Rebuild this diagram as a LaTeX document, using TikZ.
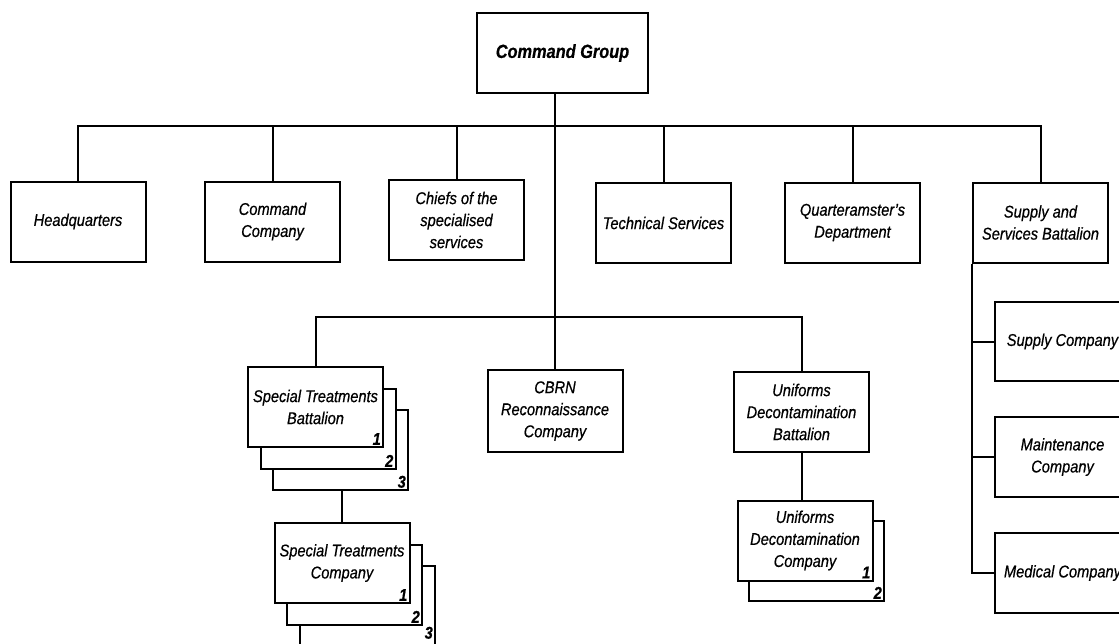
\documentclass[tikz,border=0pt]{standalone}
\usepackage{fontspec}
\setmainfont{Liberation Sans}[FakeStretch=0.86,FakeBold=0.6]
\begin{document}
\begin{tikzpicture}[x=1pt,y=-1pt,
    unit/.style={draw, line width=2pt, fill=white, minimum width=135pt, minimum height=80pt, inner sep=2pt, align=center, font=\fontsize{17}{22}\selectfont\itshape},
    num/.style={anchor=south east, inner sep=3pt, font=\fontsize{17}{17}\selectfont\bfseries\itshape},
    link/.style={line width=2pt}]
  \useasboundingbox (0,0) rectangle (1119,643);
  \coordinate (busa) at (0,126);
  \coordinate (busb) at (0,317);
  % top level
  \node[unit, minimum width=171pt, font=\fontsize{19}{22}\selectfont\bfseries\itshape] (cmd) at (562.5,53) {Command Group};
  \node[unit] (hq)  at (78,221.5)    {Headquarters};
  \node[unit] (cco) at (272.5,221.5) {Command\\Company};
  \node[unit] (chf) at (456.5,220)   {Chiefs of the\\specialised\\services};
  \node[unit] (tec) at (663.5,223)   {Technical Services};
  \node[unit] (qm)  at (852.5,222.5) {Quarteramster's\\Department};
  \node[unit] (ssb) at (1040.5,222.5) {Supply and\\Services Battalion};
  % second level
  \node[unit] (stb3) at (340.5,450) {};
  \node[unit] (stb2) at (328,429) {};
  \node[unit] (stb)  at (315.5,407) {Special Treatments\\Battalion};
  \node[num] at (stb.south east) {1};
  \node[num] at (stb2.south east) {2};
  \node[num] at (stb3.south east) {3};
  \node[unit, minimum height=82pt] (cbrn) at (555,411) {CBRN\\Reconnaissance\\Company};
  \node[unit] (udb) at (801.5,412) {Uniforms\\Decontamination\\Battalion};
  % third level
  \node[unit] (stc3) at (367.5,606) {};
  \node[unit] (stc2) at (354.5,585) {};
  \node[unit] (stc)  at (342,563) {Special Treatments\\Company};
  \node[num] at (stc.south east) {1};
  \node[num] at (stc2.south east) {2};
  \node[num] at ([yshift=5pt]stc3.south east) {3};
  \node[unit] (udc2) at (816.5,561) {};
  \node[unit] (udc)  at (805,540.5) {Uniforms\\Decontamination\\Company};
  \node[num] at (udc.south east) {1};
  \node[num] at (udc2.south east) {2};
  \node[unit, minimum height=79pt] (sup) at (1062.5,341.5) {Supply Company};
  \node[unit] (mnt) at (1062.5,457) {Maintenance\\Company};
  \node[unit] (med) at (1062.5,573) {Medical Company};
  % connectors
  \draw[link] (hq.north) -- (hq.north |- busa) -- (ssb.north |- busa) -- (ssb.north);
  \foreach \n in {cco,chf,tec,qm}
    \draw[link] (\n.north) -- (\n.north |- busa);
  \draw[link] (cmd.south -| cbrn.north) -- (cbrn.north);
  \draw[link] (stb.north) -- (stb.north |- busb) -- (udb.north |- busb) -- (udb.north);
  \draw[link] (stc.north) -- (stc.north |- stb3.south);
  \draw[link] (udb.south) -- (udb.south |- udc.north);
  \draw[link] (ssb.south west) |- (med.west);
  \foreach \n in {sup,mnt}
    \draw[link] (ssb.south west |- \n.west) -- (\n.west);
\end{tikzpicture}
\end{document}
